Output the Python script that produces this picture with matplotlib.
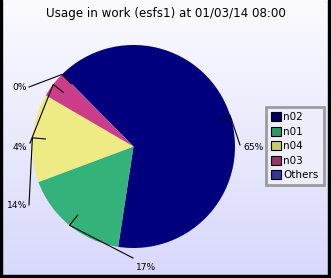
import numpy as np
import matplotlib
matplotlib.use('Agg')
import matplotlib.pyplot as plt
from matplotlib.patches import Patch, Rectangle

# data
names = ['n02', 'n01', 'n04', 'n03', 'Others']
values = [64.8, 16.9, 14.1, 4.1, 0.1]
pct_labels = ['65%', '17%', '14%', '4%', '0%']
legend_order = ['n02', 'n01', 'n04', 'n03', 'Others']

slice_colors = ['#00007f', '#33b27a', '#efeb84', '#cc3c88', '#3333a0']
legend_colors = ['#000066', '#2b9a66', '#cccc66', '#993366', '#333399']

W, H = 331, 278


def py(y):
    # pixel row (from top) -> data y
    return H - y


fig = plt.figure(figsize=(W / 100., H / 100.), dpi=100)

# background gradient + frame
bg = fig.add_axes([0, 0, 1, 1])
grad = np.linspace(0, 1, 256).reshape(-1, 1)
top = np.array([0xfb, 0xfb, 0xff]) / 255.
bot = np.array([0xd8, 0xd8, 0xfc]) / 255.
img = top[None, None, :] * (1 - grad[:, :, None]) + bot[None, None, :] * grad[:, :, None]
bg.imshow(img, aspect='auto', extent=[0, W, 0, H], origin='upper')
bg.add_patch(Rectangle((0, 0), 2, H, color='black'))
bg.add_patch(Rectangle((W - 3, 0), 3, H, color='black'))
bg.add_patch(Rectangle((0, 0), W, 3, color='black'))
bg.set_xlim(0, W)
bg.set_ylim(0, H)
bg.axis('off')

ax = fig.add_axes([0, 0, 1, 1])
ax.patch.set_alpha(0)
cx, cy, r = 133.5, py(146.5), 101.5
wedges, _ = ax.pie(values, colors=slice_colors, startangle=134.6,
                   counterclock=False, center=(cx, cy), radius=r,
                   frame=True, wedgeprops=dict(linewidth=0))
ax.set_xlim(0, W)
ax.set_ylim(0, H)
ax.axis('off')

# label anchor (line end) and text placement, in pixels from top-left
label_pos = {
    '65%': ((240, 145), (243, 147), 'left'),
    '17%': ((133, 258), (146, 267), 'center'),
    '14%': ((29, 205), (27, 205), 'right'),
    '4%': ((30, 143), (27, 147), 'right'),
    '0%': ((29, 87), (27, 87), 'right'),
}

for w, lab in zip(wedges, pct_labels):
    mid = np.deg2rad((w.theta1 + w.theta2) / 2.)
    ex, ey = cx + r * np.cos(mid), cy + r * np.sin(mid)
    ix, iy = cx + (r - 13) * np.cos(mid), cy + (r - 13) * np.sin(mid)
    (lx, ly), (tx, ty), ha = label_pos[lab]
    ax.plot([ix, ex, lx], [iy, ey, py(ly)], color='black', lw=0.8)
    ax.text(tx, py(ty), lab, fontsize=6.6, ha=ha, va='center')

fig.text(0.5, 1 - 13 / H, 'Usage in work (esfs1) at 01/03/14 08:00',
         ha='center', va='center', fontsize=8.6)

handles = [Patch(facecolor=c, edgecolor='black', linewidth=0.8)
           for c in legend_colors]
leg = fig.legend(handles, legend_order, loc='upper left',
                 bbox_to_anchor=(266 / W, 1 - 107 / H), fontsize=7.5,
                 frameon=True, fancybox=False, handlelength=0.95,
                 handleheight=0.95, handletextpad=0.2, labelspacing=0.42,
                 borderpad=0.5, borderaxespad=0)
leg.get_frame().set_edgecolor('#888888')
leg.get_frame().set_linewidth(2)
leg.get_frame().set_facecolor('#f0f0fc')

fig.savefig('out.png', dpi=100)
